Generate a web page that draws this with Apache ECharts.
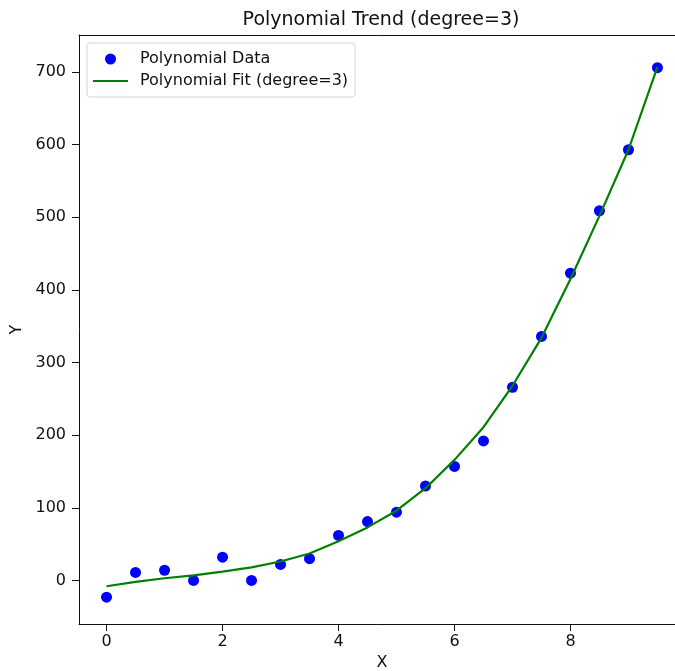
<!DOCTYPE html>
<html>
<head>
<meta charset="utf-8">
<script src="https://cdn.jsdelivr.net/npm/echarts@6/dist/echarts.min.js"></script>
<style>
html,body{margin:0;padding:0;background:#fff;}
#chart{width:675px;height:671px;}
</style>
</head>
<body>
<div id="chart"></div>
<script>
// Data
var xValues = [0, 0.5, 1, 1.5, 2, 2.5, 3, 3.5, 4, 4.5, 5, 5.5, 6, 6.5, 7, 7.5, 8, 8.5, 9, 9.5];
var dataValues = [-23, 11, 14, 0, 32, 0, 22, 30, 62, 81, 94, 130, 157, 192, 266, 336, 423, 509, 593, 706];
var fitValues = [-8, -2, 3, 7, 12, 18, 26, 37, 54, 73, 96, 127, 166, 211, 268, 334, 415, 502, 593, 707];
var xTicks = [0, 2, 4, 6, 8];
var yTicks = [0, 100, 200, 300, 400, 500, 600, 700];
var titleText = 'Polynomial Trend (degree=3)';
var dataName = 'Polynomial Data';
var fitName = 'Polynomial Fit (degree=3)';

var scatterData = xValues.map(function (x, i) { return [x, dataValues[i]]; });
var fitData = xValues.map(function (x, i) { return [x, fitValues[i]]; });

var font = 'DejaVu Sans';
var ink = '#111';
var chart = echarts.init(document.getElementById('chart'), null, {renderer: 'canvas'});
chart.setOption({
  animation: false,
  backgroundColor: '#fff',
  textStyle: {fontFamily: font},
  title: {
    text: titleText,
    left: 376,
    top: 6,
    textAlign: 'center',
    textStyle: {fontFamily: font, fontSize: 19, fontWeight: 'normal', color: ink}
  },
  legend: {
    left: 87,
    top: 43,
    orient: 'vertical',
    itemWidth: 35,
    itemHeight: 11,
    itemGap: 6,
    padding: [8, 7, 8, 5],
    backgroundColor: 'rgba(255,255,255,0.8)',
    borderColor: '#d4d4d4',
    borderWidth: 1,
    borderRadius: 3,
    textStyle: {fontFamily: font, fontSize: 16, lineHeight: 16, color: ink, padding: [0, 0, 0, 7]},
    data: [
      {name: dataName},
      {name: fitName, itemStyle: {opacity: 0}}
    ]
  },
  grid: {
    left: 79,
    top: 35,
    right: -10,
    bottom: 47,
    show: false,
    containLabel: false,
    outerBoundsMode: 'none'
  },
  xAxis: [{
    type: 'value',
    min: -0.475,
    max: 9.975,
    name: 'X',
    nameLocation: 'middle',
    nameGap: 31,
    nameTextStyle: {fontFamily: font, fontSize: 16, color: ink},
    splitLine: {show: false},
    axisLine: {show: true, onZero: false, lineStyle: {color: ink, width: 1}},
    axisTick: {show: true, length: 7, lineStyle: {color: ink}, customValues: xTicks},
    axisLabel: {fontFamily: font, fontSize: 16, color: ink, margin: 10, customValues: xTicks}
  }, {
    type: 'value',
    position: 'top',
    min: -0.475,
    max: 9.975,
    splitLine: {show: false},
    axisLine: {show: true, onZero: false, lineStyle: {color: ink, width: 1}},
    axisTick: {show: false},
    axisLabel: {show: false}
  }],
  yAxis: {
    type: 'value',
    min: -60,
    max: 751,
    name: 'Y',
    nameLocation: 'middle',
    nameGap: 53,
    nameRotate: 90,
    nameTextStyle: {fontFamily: font, fontSize: 16, color: ink},
    splitLine: {show: false},
    axisLine: {show: true, onZero: false, lineStyle: {color: ink, width: 1}},
    axisTick: {show: true, length: 7, lineStyle: {color: ink}, customValues: yTicks},
    axisLabel: {fontFamily: font, fontSize: 16, color: ink, margin: 13, customValues: yTicks}
  },
  series: [
    {
      name: dataName,
      type: 'scatter',
      symbol: 'circle',
      symbolSize: 11,
      itemStyle: {color: '#0000ff', opacity: 1},
      data: scatterData,
      z: 2
    },
    {
      name: fitName,
      type: 'line',
      showSymbol: false,
      smooth: false,
      lineStyle: {color: '#008000', width: 2.2},
      itemStyle: {color: '#008000'},
      data: fitData,
      z: 3
    }
  ]
});
</script>
</body>
</html>
